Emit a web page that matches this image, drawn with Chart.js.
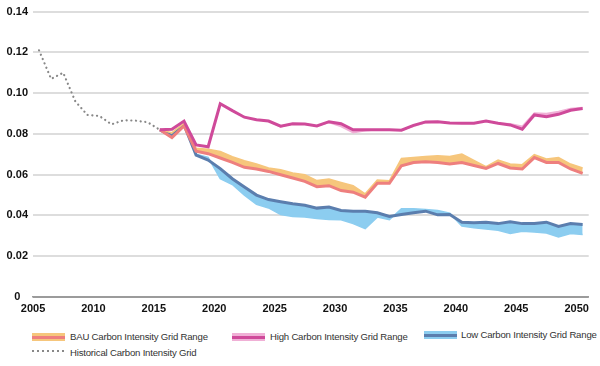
<!DOCTYPE html>
<html>
<head>
<meta charset="utf-8">
<script src="https://cdn.jsdelivr.net/npm/chart.js@4.4.1/dist/chart.umd.min.js"></script>
<style>
  html, body { margin: 0; padding: 0; background: #fff; }
  body { width: 600px; height: 366px; position: relative; overflow: hidden; font-family: "Liberation Sans", Arial, sans-serif; }
  #wrap { position: absolute; left: 0; top: 0; width: 600px; height: 322px; }
  .item { position: absolute; font-size: 9.6px; letter-spacing: -0.2px; color: #333; white-space: nowrap; line-height: 12px; }
  .sw { position: absolute; width: 33px; height: 8px; }
  .sw i { position: absolute; left: 0; right: 0; top: 2.5px; height: 3px; }
</style>
</head>
<body>
<div id="wrap"><canvas id="c"></canvas></div>

<div class="sw" style="left:32px;top:333px;background:#f6c67c"><i style="background:#ee7f7e"></i></div>
<div class="item" style="left:70px;top:331px">BAU Carbon Intensity Grid Range</div>
<div class="sw" style="left:232px;top:333px;background:#f0b0d6"><i style="background:#cf4a9a"></i></div>
<div class="item" style="left:270px;top:331px">High Carbon Intensity Grid Range</div>
<div class="sw" style="left:424px;top:331px;background:#8ccdf0"><i style="background:#5b7eae"></i></div>
<div class="item" style="left:461px;top:329px">Low Carbon Intensity Grid Range</div>
<div class="sw" style="left:32px;top:350px;height:2px;background:repeating-linear-gradient(90deg,#888 0 2px,transparent 2px 5px)"></div>
<div class="item" style="left:70px;top:347px">Historical Carbon Intensity Grid</div>

<script>
// 과거 실적 (점선)
const HIST_YEARS = [2005, 2006, 2007, 2008, 2009, 2010, 2011, 2012, 2013, 2014, 2015];
const HIST = [0.121, 0.107, 0.110, 0.096, 0.0893, 0.0888, 0.0847, 0.0867, 0.0865, 0.0857, 0.082];

// 전망 구간 2015-2050
const PROJ_YEARS = [2015, 2016, 2017, 2018, 2019, 2020, 2021, 2022, 2023, 2024,
  2025, 2026, 2027, 2028, 2029, 2030, 2031, 2032, 2033, 2034,
  2035, 2036, 2037, 2038, 2039, 2040, 2041, 2042, 2043, 2044,
  2045, 2046, 2047, 2048, 2049, 2050];

const HIGH_LINE = [0.082, 0.0823, 0.0863, 0.0746, 0.0737, 0.0948, 0.0914, 0.0882, 0.0870, 0.0863,
  0.0838, 0.0850, 0.0849, 0.0839, 0.0860, 0.0850, 0.0820, 0.0821, 0.0820, 0.0820,
  0.0818, 0.0842, 0.0859, 0.0860, 0.0854, 0.0852, 0.0852, 0.0863, 0.0852, 0.0844,
  0.0823, 0.0893, 0.0884, 0.0896, 0.0916, 0.0925];
const HIGH_ALT = [0.082, 0.0823, 0.0863, 0.0746, 0.0737, 0.0948, 0.0914, 0.0882, 0.0870, 0.0863,
  0.0834, 0.0850, 0.0849, 0.0839, 0.0856, 0.0836, 0.0806, 0.0815, 0.0820, 0.0820,
  0.0818, 0.0838, 0.0855, 0.0860, 0.0854, 0.0852, 0.0852, 0.0863, 0.0852, 0.0850,
  0.0838, 0.0903, 0.0900, 0.0910, 0.0925, 0.0930];

const BAU_LOW = [0.082, 0.0782, 0.0839, 0.0715, 0.0703, 0.0682, 0.0660, 0.0636, 0.0628, 0.0616,
  0.0600, 0.0584, 0.0567, 0.0541, 0.0546, 0.0522, 0.0514, 0.0490, 0.0558, 0.0558,
  0.0644, 0.0660, 0.0663, 0.0660, 0.0652, 0.0660, 0.0645, 0.0631, 0.0655, 0.0633,
  0.0628, 0.0684, 0.0660, 0.0660, 0.0628, 0.0606];
const BAU_HIGH = [0.082, 0.0806, 0.0852, 0.0730, 0.0725, 0.0714, 0.0688, 0.0668, 0.0652, 0.0633,
  0.0624, 0.0608, 0.0600, 0.0571, 0.0579, 0.0562, 0.0546, 0.0506, 0.0574, 0.0570,
  0.0680, 0.0684, 0.0689, 0.0693, 0.0689, 0.0701, 0.0670, 0.0639, 0.0672, 0.0652,
  0.0649, 0.0698, 0.0677, 0.0684, 0.0652, 0.0633];

const LOW_LINE = [0.082, 0.0790, 0.0845, 0.0696, 0.0672, 0.0630, 0.0580, 0.0540, 0.0500, 0.0478,
  0.0467, 0.0457, 0.0450, 0.0436, 0.0441, 0.0424, 0.0421, 0.0421, 0.0413, 0.0395,
  0.0405, 0.0413, 0.0421, 0.0403, 0.0405, 0.0367, 0.0364, 0.0367, 0.0360, 0.0369,
  0.0360, 0.0360, 0.0367, 0.0346, 0.0360, 0.0356];
const LOW_ALT = [0.082, 0.0790, 0.0845, 0.0700, 0.0685, 0.0580, 0.0552, 0.0500, 0.0455, 0.0437,
  0.0405, 0.0395, 0.0392, 0.0385, 0.0380, 0.0379, 0.0360, 0.0335, 0.0392, 0.0379,
  0.0433, 0.0433, 0.0429, 0.0424, 0.0411, 0.0348, 0.0340, 0.0333, 0.0327, 0.0311,
  0.0323, 0.0319, 0.0314, 0.0294, 0.0311, 0.0307];

const X_TICKS = [2005, 2010, 2015, 2020, 2025, 2030, 2035, 2040, 2045, 2050];

function pts(years, vals) {
  return years.map((y, i) => ({ x: y, y: vals[i] }));
}

function band(vals, color) {
  return {
    data: pts(PROJ_YEARS, vals),
    borderColor: color,
    backgroundColor: color,
    borderWidth: 1.5,
    pointRadius: 0,
    tension: 0,
    fill: "-1",
  };
}

function line(vals, color) {
  return {
    data: pts(PROJ_YEARS, vals),
    borderColor: color,
    backgroundColor: color,
    borderWidth: 3,
    pointRadius: 0,
    tension: 0,
    fill: false,
  };
}

const tickFont = { family: "'Liberation Sans', Arial, sans-serif", size: 11, weight: "bold" };

new Chart(document.getElementById("c"), {
  type: "line",
  data: {
    datasets: [
      {
        data: pts(HIST_YEARS, HIST),
        borderColor: "#888888",
        borderWidth: 2.2,
        borderDash: [0.1, 4.6],
        borderCapStyle: "round",
        pointRadius: 0,
        fill: false,
      },
      line(HIGH_LINE, "#cf4a9a"),
      band(HIGH_ALT, "#f0b0d6"),
      line(BAU_LOW, "#ee7f7e"),
      band(BAU_HIGH, "#f6c67c"),
      line(LOW_LINE, "#5b7eae"),
      band(LOW_ALT, "#8ccdf0"),
    ],
  },
  options: {
    responsive: true,
    maintainAspectRatio: false,
    animation: false,
    parsing: true,
    layout: { padding: { top: 10, right: 10, left: 0, bottom: 0 } },
    scales: {
      x: {
        type: "linear",
        min: 2004.5,
        max: 2050.5,
        afterBuildTicks: (s) => { s.ticks = X_TICKS.map((v) => ({ value: v })); },
        afterFit: (s) => { s.height = 25; },
        grid: { display: false, drawTicks: false },
        border: { display: true, color: "#9b9b9b", width: 1.5 },
        ticks: { font: tickFont, color: "#111", padding: 5, labelOffset: -6, maxRotation: 0, autoSkip: false,
          callback: (v) => String(v) },
      },
      y: {
        min: 0,
        max: 0.14,
        afterFit: (s) => { s.width = 33; },
        grid: { color: (c) => (c.tick.value === 0 ? "#9b9b9b" : "#dddddd"), lineWidth: 2, drawTicks: false },
        border: { display: false },
        ticks: { stepSize: 0.02, font: tickFont, color: "#111", padding: 5, crossAlign: "center",
          callback: (v) => (v === 0 ? "0" : v.toFixed(2)) },
      },
    },
    plugins: {
      legend: { display: false },
      tooltip: { enabled: false },
      filler: { drawTime: "beforeDatasetsDraw" },
    },
  },
});
</script>
</body>
</html>
